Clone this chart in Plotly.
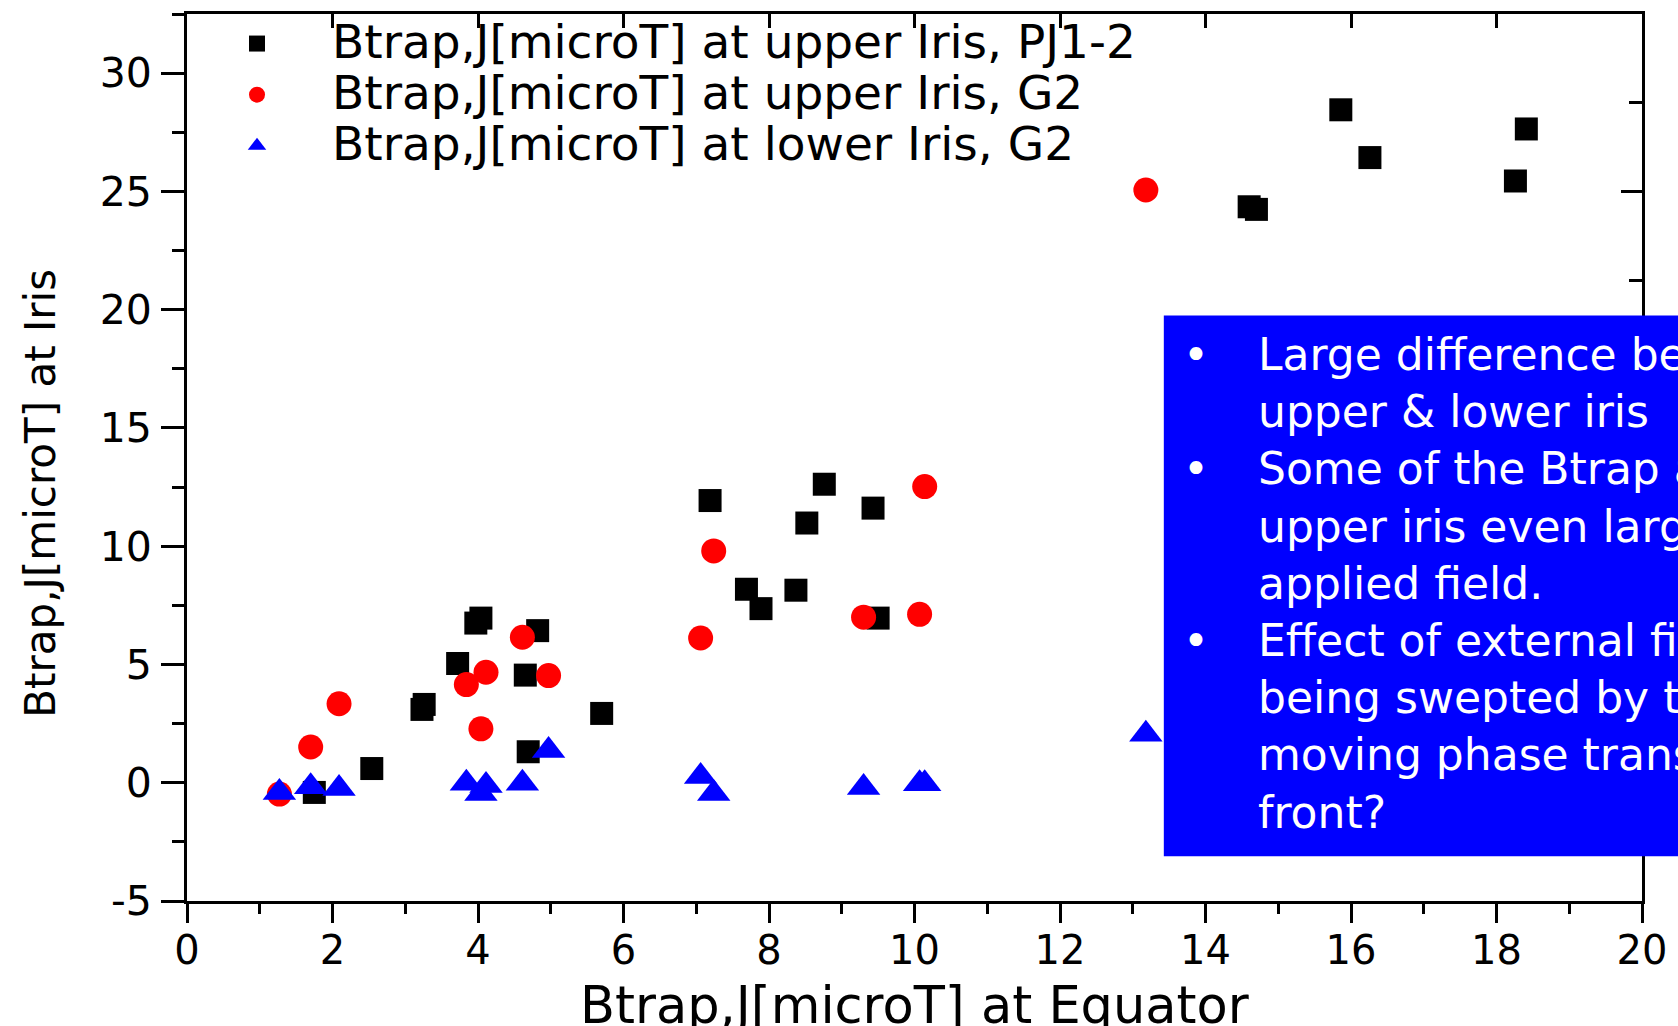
import plotly.graph_objects as go

# ---- data ----
pj_x = [15.86, 18.41, 16.26, 18.26, 14.60, 14.70, 7.19, 8.76, 8.52, 9.43, 7.69, 7.89,
        8.37, 9.50, 3.97, 4.04, 4.82, 3.72, 4.65, 3.23, 3.26, 5.70, 4.69, 2.54, 1.75]
pj_y = [28.45, 27.64, 26.43, 25.44, 24.35, 24.24, 11.93, 12.62, 10.98, 11.61, 8.18, 7.36,
        8.14, 6.96, 6.75, 6.96, 6.43, 5.04, 4.55, 3.10, 3.31, 2.93, 1.31, 0.60, -0.41]

g2_upper_x = [13.18, 10.14, 7.24, 9.30, 10.07, 7.06, 4.61, 4.11, 3.84, 4.97, 4.04, 2.09, 1.70, 1.27]
g2_upper_y = [25.06, 12.52, 9.80, 7.00, 7.12, 6.12, 6.15, 4.67, 4.15, 4.53, 2.28, 3.34, 1.51, -0.48]

g2_lower_x = [13.18, 10.07, 10.14, 9.30, 7.24, 7.06, 4.97, 4.61, 4.11, 4.04, 3.84, 2.09, 1.70, 1.27]
g2_lower_y = [2.05, -0.04, -0.04, -0.20, -0.45, 0.26, 1.36, -0.02, -0.12, -0.46, -0.02, -0.24, -0.17, -0.41]

series_names = [
    "Btrap,J[microT] at upper Iris, PJ1-2",
    "Btrap,J[microT] at upper Iris, G2",
    "Btrap,J[microT] at lower Iris, G2",
]
y_tick_vals = [-5, 0, 5, 10, 15, 20, 25, 30]
y_tick_text = ["-5", "0", "5", "10", "15", "20", "25", "30"]
x_title = "Btrap,J[microT] at Equator"
y_title = "Btrap,J[microT] at Iris"
box_lines = [
    "Large difference between",
    "upper & lower iris",
    "Some of the Btrap at the",
    "upper iris even larger than",
    "applied field.",
    "Effect of external field",
    "being swepted by the",
    "moving phase transition",
    "front?",
]
bullet_rows = [0, 2, 5]

FONT = "DejaVu Sans"
W, H = 1678, 1026
L, R, T, B = 187, 32, 11, 125
pw, ph = W - L - R, H - T - B


def px_x(p):
    return (p - L) / pw


def px_y(p):
    return (H - B - p) / ph


def big(name, size=47):
    return f'<span style="font-size:{size}px">{name}</span>'


fig = go.Figure()
fig.add_trace(go.Scatter(x=pj_x, y=pj_y, mode="markers", name=big(series_names[0]),
                         marker=dict(symbol="square", size=23, color="black", line=dict(width=0))))
fig.add_trace(go.Scatter(x=g2_upper_x, y=g2_upper_y, mode="markers", name=big(series_names[1]),
                         marker=dict(symbol="circle", size=25, color="#ff0000", line=dict(width=0))))
fig.add_trace(go.Scatter(x=g2_lower_x, y=g2_lower_y, mode="markers", name=big(series_names[2]),
                         marker=dict(symbol="triangle-up", size=29, color="#0000ff", line=dict(width=0))))
# helper (empty) trace so the mirrored tick axes are drawn
fig.add_trace(go.Scatter(x=[], y=[], xaxis="x2", yaxis="y2", showlegend=False, hoverinfo="skip"))

axis_common = dict(showgrid=False, zeroline=False, linecolor="black", linewidth=3,
                   tickcolor="black", tickwidth=2.5)

fig.update_layout(
    width=W, height=H,
    margin=dict(l=L, r=R, t=T, b=B, pad=0),
    paper_bgcolor="white", plot_bgcolor="white",
    font=dict(family=FONT, color="black"),
    xaxis=dict(range=[0, 20], dtick=2, ticks="outside", ticklen=19, showline=True, mirror=True,
               tickfont=dict(size=40, family=FONT), ticklabelstandoff=-7,
               minor=dict(dtick=1, ticks="outside", ticklen=10, tickwidth=2.5, tickcolor="black"),
               **axis_common),
    yaxis=dict(range=[-5, 32.5], tickmode="array", tickvals=y_tick_vals, ticktext=y_tick_text,
               ticks="outside", ticklen=23, showline=True, mirror=True,
               tickfont=dict(size=41, family=FONT), ticklabelstandoff=1,
               minor=dict(dtick=2.5, ticks="outside", ticklen=12, tickwidth=2.5, tickcolor="black"),
               **axis_common),
    xaxis2=dict(range=[0, 20], overlaying="x", side="top", dtick=2, ticks="inside", ticklen=14,
                showticklabels=False, showline=False, showgrid=False, zeroline=False,
                tickcolor="black", tickwidth=2.5),
    yaxis2=dict(range=[-5, 32.5], overlaying="y", side="right", tickvals=[25], ticks="inside",
                ticklen=21, showticklabels=False, showline=False, showgrid=False, zeroline=False,
                tickcolor="black", tickwidth=2.5,
                minor=dict(tickvals=[21.25, 28.75], ticks="inside", ticklen=13, tickwidth=2.5,
                           tickcolor="black")),
    legend=dict(x=px_x(182), y=px_y(10), xanchor="left", yanchor="top", bgcolor="rgba(0,0,0,0)",
                font=dict(size=37, family=FONT), itemwidth=140, tracegroupgap=0),
    showlegend=True,
)

# blue text box
fig.add_shape(type="rect", xref="paper", yref="paper",
              x0=px_x(1166.5), x1=px_x(1700), y0=px_y(856), y1=px_y(313.5),
              fillcolor="#0000ff", line=dict(width=0), layer="above")

fig.add_annotation(xref="paper", yref="paper", x=px_x(1259), y=px_y(582),
                   xanchor="left", yanchor="middle", align="left", showarrow=False,
                   text="<br>".join(box_lines),
                   font=dict(family=FONT, size=44, color="white"))
bullets = ["•" if i in bullet_rows else "\u00a0" for i in range(len(box_lines))]
fig.add_annotation(xref="paper", yref="paper", x=px_x(1199), y=px_y(582),
                   xanchor="center", yanchor="middle", align="center", showarrow=False,
                   text="<br>".join(bullets),
                   font=dict(family=FONT, size=44, color="white"))

# axis titles
fig.add_annotation(xref="paper", yref="paper", x=px_x(916.5), y=px_y(1006),
                   xanchor="center", yanchor="middle", showarrow=False, text=x_title,
                   font=dict(family=FONT, size=51, color="black"))
fig.add_annotation(xref="paper", yref="paper", x=px_x(40), y=px_y(492),
                   xanchor="center", yanchor="middle", showarrow=False, text=y_title,
                   textangle=-90, font=dict(family=FONT, size=42, color="black"))

fig.write_html("out.html")
